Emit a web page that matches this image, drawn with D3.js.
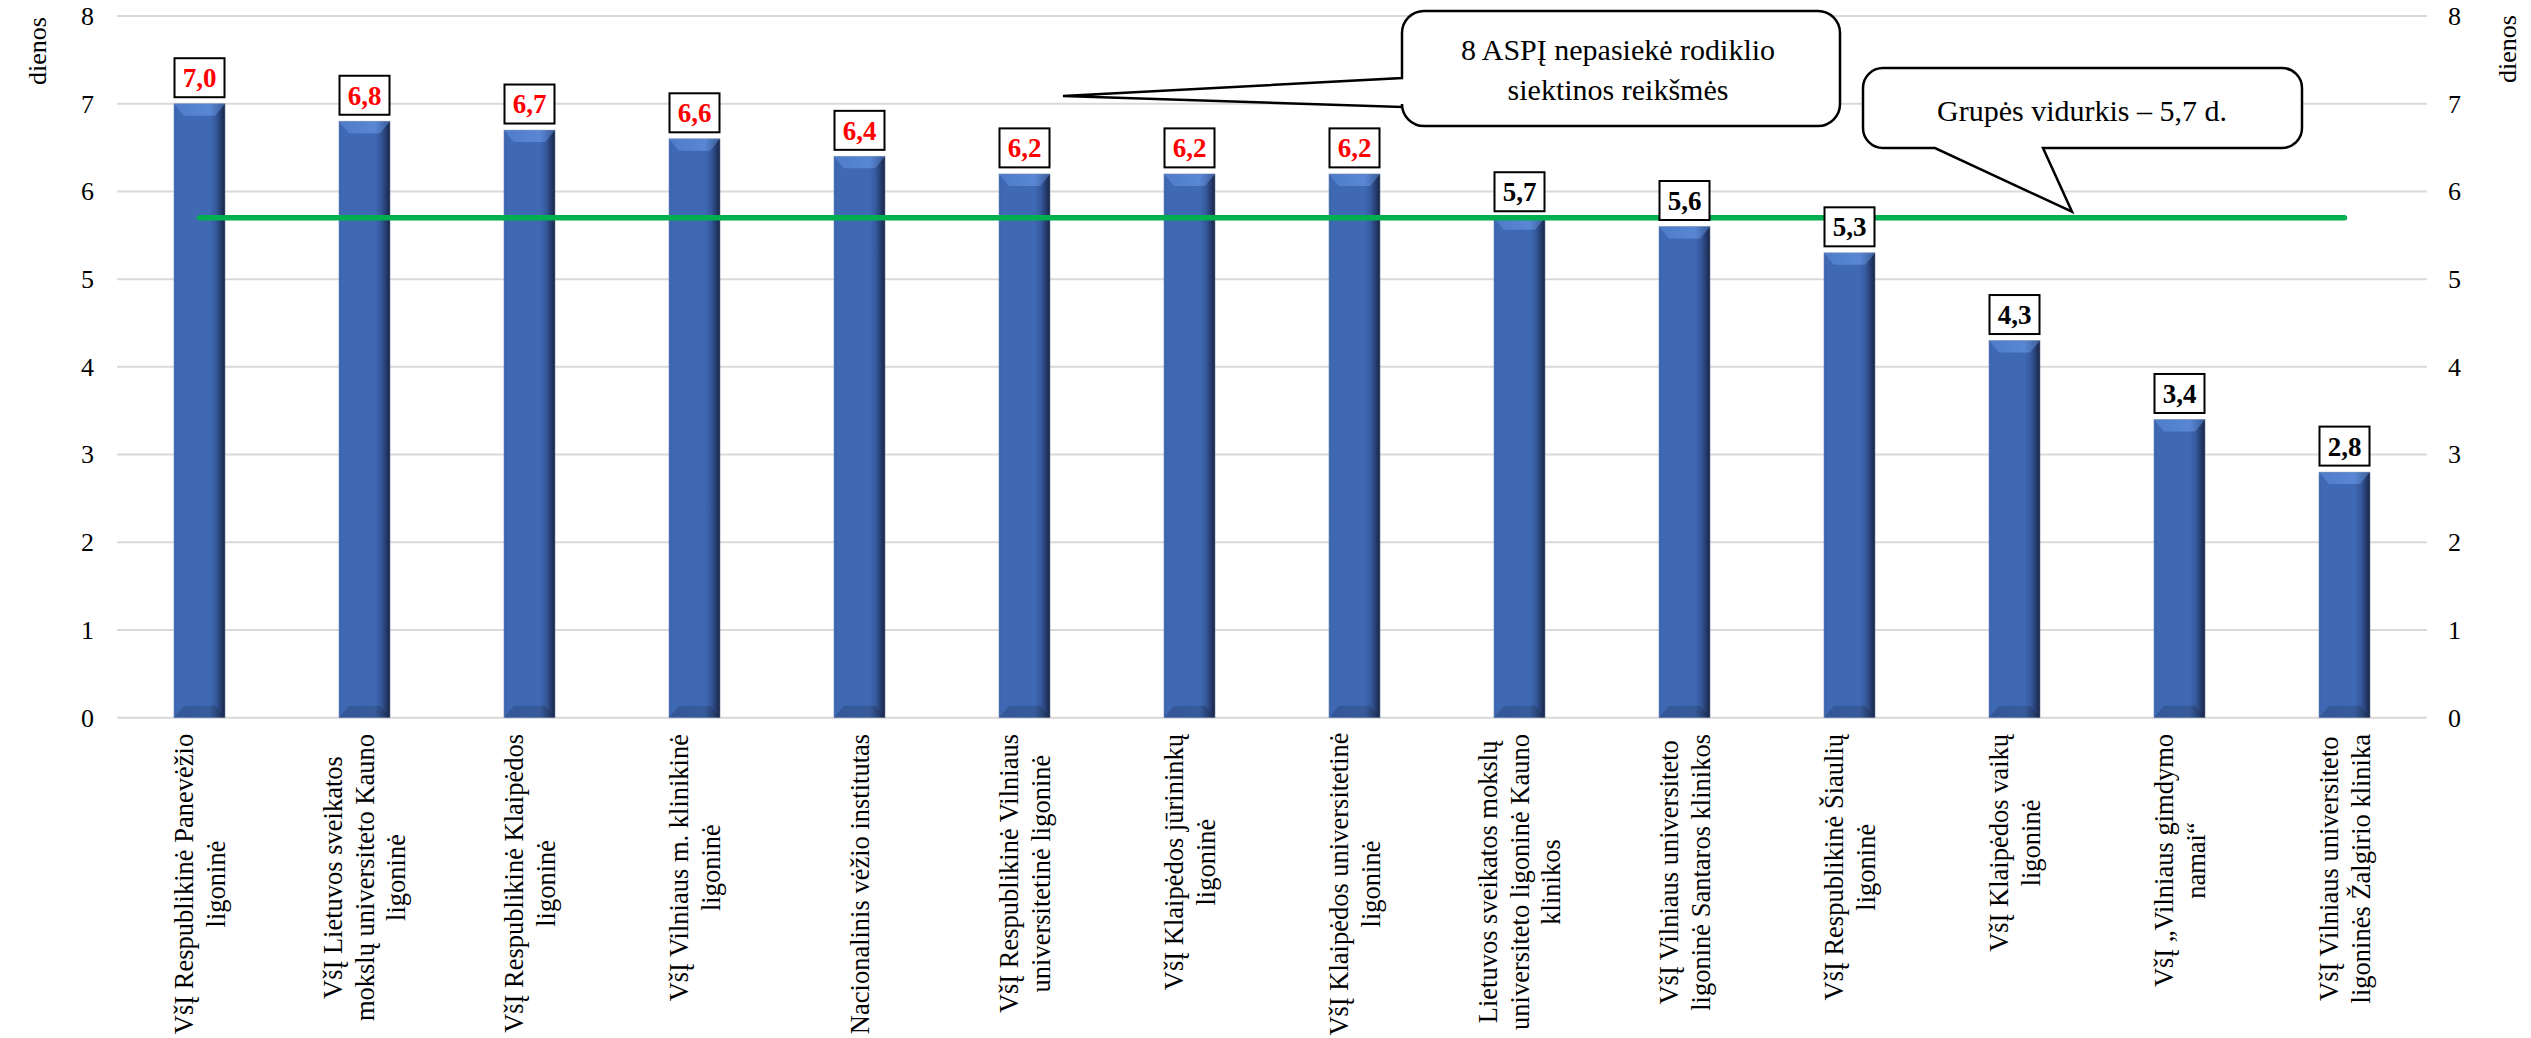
<!DOCTYPE html>
<html>
<head>
<meta charset="utf-8">
<script src="https://cdn.jsdelivr.net/npm/d3@7"></script>
<style>
  html, body { margin: 0; padding: 0; background: #fff; }
  svg { display: block; }
  svg text { font-family: "Liberation Serif", "Times New Roman", "DejaVu Serif", serif; }
</style>
</head>
<body>
<svg id="chart" width="2531" height="1038"></svg>
<script>
const categories = [
  "VšĮ Respublikinė Panevėžio\nligoninė",
  "VšĮ Lietuvos sveikatos\nmokslų universiteto Kauno\nligoninė",
  "VšĮ Respublikinė Klaipėdos\nligoninė",
  "VšĮ Vilniaus m. klinikinė\nligoninė",
  "Nacionalinis vėžio institutas",
  "VšĮ Respublikinė Vilniaus\nuniversitetinė ligoninė",
  "VšĮ Klaipėdos jūrininkų\nligoninė",
  "VšĮ Klaipėdos universitetinė\nligoninė",
  "Lietuvos sveikatos mokslų\nuniversiteto ligoninė Kauno\nklinikos",
  "VšĮ Vilniaus universiteto\nligoninė Santaros klinikos",
  "VšĮ Respublikinė Šiaulių\nligoninė",
  "VšĮ Klaipėdos vaikų\nligoninė",
  "VšĮ „Vilniaus gimdymo\nnamai“",
  "VšĮ Vilniaus universiteto\nligoninės Žalgirio klinika"
];
const values = [7.0, 6.8, 6.7, 6.6, 6.4, 6.2, 6.2, 6.2, 5.7, 5.6, 5.3, 4.3, 3.4, 2.8];
const groupAverage = [5.7, 5.7, 5.7, 5.7, 5.7, 5.7, 5.7, 5.7, 5.7, 5.7, 5.7, 5.7, 5.7, 5.7];
const missedTarget = [true, true, true, true, true, true, true, true, false, false, false, false, false, false];
const yTicks = [0, 1, 2, 3, 4, 5, 6, 7, 8];
const axisTitle = "dienos";
const callout1Lines = ["8 ASPĮ nepasiekė rodiklio", "siektinos reikšmės"];
const callout2Lines = ["Grupės vidurkis – 5,7 d."];

const FONT = "Liberation Serif, Times New Roman, DejaVu Serif, serif";
const fmt = v => d3.format(".1f")(v).replace(".", ",");

const svg = d3.select("#chart").attr("font-family", FONT);
const plotLeft = 117, plotRight = 2427, plotTop = 16, plotBottom = 717.7;

const x = d3.scaleBand().domain(categories).range([plotLeft, plotRight]).padding(0);
const y = d3.scaleLinear().domain([0, 8]).range([plotBottom, plotTop]);
const barW = x.bandwidth() * 0.31;

// defs: gradients
const defs = svg.append("defs");
const g1 = defs.append("linearGradient").attr("id", "barGrad").attr("x1", "0").attr("x2", "1").attr("y1", "0").attr("y2", "0");
[[0, "#3b63ad"], [0.08, "#4069b4"], [0.7, "#4069b4"], [0.82, "#35599c"], [0.93, "#24396a"], [1, "#182440"]]
  .forEach(([o, c]) => g1.append("stop").attr("offset", o).attr("stop-color", c));
const g2 = defs.append("linearGradient").attr("id", "bevelTop").attr("x1", "0").attr("x2", "1").attr("y1", "0").attr("y2", "0");
[[0, "#4f7cc8"], [0.7, "#5987d4"], [1, "#3a5a96"]]
  .forEach(([o, c]) => g2.append("stop").attr("offset", o).attr("stop-color", c));
const g3 = defs.append("linearGradient").attr("id", "bevelBot").attr("x1", "0").attr("x2", "1").attr("y1", "0").attr("y2", "0");
[[0, "#2f4f8c"], [0.7, "#33548f"], [1, "#1a2745"]]
  .forEach(([o, c]) => g3.append("stop").attr("offset", o).attr("stop-color", c));

// gridlines
svg.append("g").selectAll("line").data(yTicks).join("line")
  .attr("x1", plotLeft).attr("x2", plotRight)
  .attr("y1", d => y(d)).attr("y2", d => y(d))
  .attr("stroke", "#d9d9d9").attr("stroke-width", 2);

// left axis
const leftAxis = d3.axisLeft(y).tickValues(yTicks).tickSize(0).tickPadding(23).tickFormat(d3.format("d"));
const la = svg.append("g").attr("transform", `translate(${plotLeft},0)`).call(leftAxis);
la.attr("font-family", FONT).attr("font-size", 26);
la.select(".domain").remove();
la.selectAll("text").attr("fill", "#000");

// right axis
const rightAxis = d3.axisRight(y).tickValues(yTicks).tickSize(0).tickPadding(21).tickFormat(d3.format("d"));
const ra = svg.append("g").attr("transform", `translate(${plotRight},0)`).call(rightAxis);
ra.attr("font-family", FONT).attr("font-size", 26);
ra.select(".domain").remove();
ra.selectAll("text").attr("fill", "#000");

// axis titles
svg.append("text").attr("transform", "translate(37,51) rotate(-90)")
  .attr("text-anchor", "middle").attr("dominant-baseline", "central")
  .attr("font-size", 26).text(axisTitle);
svg.append("text").attr("transform", "translate(2507,49) rotate(-90)")
  .attr("text-anchor", "middle").attr("dominant-baseline", "central")
  .attr("font-size", 26).text(axisTitle);

// bars
const bars = svg.append("g").selectAll("g").data(categories).join("g");
bars.each(function(c, i) {
  const g = d3.select(this);
  const x0 = x(c) + (x.bandwidth() - barW) / 2;
  const x1 = x0 + barW;
  const yt = y(values[i]);
  const yb = y(0);
  const bev = 12, ins = 10;
  g.append("rect").attr("x", x0).attr("y", yt).attr("width", barW).attr("height", yb - yt)
    .attr("fill", "url(#barGrad)");
  g.append("path")
    .attr("d", `M${x0},${yt} L${x1},${yt} L${x1 - ins},${yt + bev} L${x0 + ins},${yt + bev} Z`)
    .attr("fill", "url(#bevelTop)");
  g.append("path")
    .attr("d", `M${x0},${yb} L${x1},${yb} L${x1 - ins},${yb - bev} L${x0 + ins},${yb - bev} Z`)
    .attr("fill", "url(#bevelBot)").attr("opacity", 0.7);
  g.append("rect").attr("x", x0).attr("y", yt).attr("width", barW).attr("height", yb - yt)
    .attr("fill", "none").attr("stroke", "#8ea0c0").attr("stroke-width", 0.8).attr("opacity", 0.6);
});

// average line
const line = d3.line().x((d, i) => x(categories[i]) + x.bandwidth() / 2).y(d => y(d));
svg.append("path").datum(groupAverage).attr("d", line)
  .attr("fill", "none").attr("stroke", "#00b050").attr("stroke-width", 5.5).attr("stroke-linecap", "round");

// data labels
const labels = svg.append("g").selectAll("g").data(categories).join("g");
labels.each(function(c, i) {
  const g = d3.select(this);
  const cx = x(c) + x.bandwidth() / 2;
  const yt = y(values[i]);
  const bw = 50, bh = 39, gap = 6.5;
  g.append("rect").attr("x", cx - bw / 2).attr("y", yt - gap - bh).attr("width", bw).attr("height", bh)
    .attr("fill", "#fff").attr("stroke", "#000").attr("stroke-width", 2);
  g.append("text").attr("x", cx).attr("y", yt - gap - bh / 2).attr("dy", "0.35em")
    .attr("text-anchor", "middle").attr("font-size", 27).attr("font-weight", "bold")
    .attr("fill", missedTarget[i] ? "#ff0000" : "#000").text(fmt(values[i]));
});

// category labels
const catFont = 26.5, catLH = 31.7, catTop = 734;
const cl = svg.append("g").selectAll("g").data(categories).join("g");
cl.each(function(c) {
  const lines = c.split("\n");
  const cx = x(c) + x.bandwidth() / 2;
  const g = d3.select(this).attr("transform", `translate(${cx},${catTop}) rotate(-90)`);
  const texts = lines.map((l, j) => g.append("text")
    .attr("font-size", catFont).attr("text-anchor", "middle")
    .attr("y", (j - (lines.length - 1) / 2) * catLH).attr("dy", "0.35em").text(l));
  const maxW = Math.min(300, d3.max(texts, t => t.node().getComputedTextLength()));
  texts.forEach(t => t.attr("x", -maxW / 2));
});

// callouts
function calloutPath(x0, y0, x1, y1, r, tail) {
  let p = `M${x0 + r},${y0} H${x1 - r} A${r},${r} 0 0 1 ${x1},${y0 + r} V${y1 - r} A${r},${r} 0 0 1 ${x1 - r},${y1}`;
  if (tail.side === "bottom") {
    p += ` H${tail.b} L${tail.tx},${tail.ty} L${tail.a},${y1} H${x0 + r} A${r},${r} 0 0 1 ${x0},${y1 - r} V${y0 + r}`;
  } else {
    p += ` H${x0 + r} A${r},${r} 0 0 1 ${x0},${y1 - r} V${tail.b} L${tail.tx},${tail.ty} L${x0},${tail.a} V${y0 + r}`;
  }
  p += ` A${r},${r} 0 0 1 ${x0 + r},${y0} Z`;
  return p;
}
const ann = svg.append("g");
ann.append("path")
  .attr("d", calloutPath(1402, 11, 1840, 126, 22, { side: "left", a: 78, b: 107, tx: 1063, ty: 96 }))
  .attr("fill", "#fff").attr("stroke", "#000").attr("stroke-width", 2.5).attr("stroke-linejoin", "miter");
callout1Lines.forEach((t, j) => ann.append("text").attr("x", 1618).attr("y", 60 + j * 40)
  .attr("text-anchor", "middle").attr("font-size", 30).text(t));

ann.append("path")
  .attr("d", calloutPath(1863, 68, 2302, 148, 20, { side: "bottom", a: 1935, b: 2043, tx: 2072, ty: y(5.7) - 6 }))
  .attr("fill", "#fff").attr("stroke", "#000").attr("stroke-width", 2.5);
callout2Lines.forEach((t, j) => ann.append("text").attr("x", 2082).attr("y", 121 + j * 40)
  .attr("text-anchor", "middle").attr("font-size", 30).text(t));
</script>
</body>
</html>
